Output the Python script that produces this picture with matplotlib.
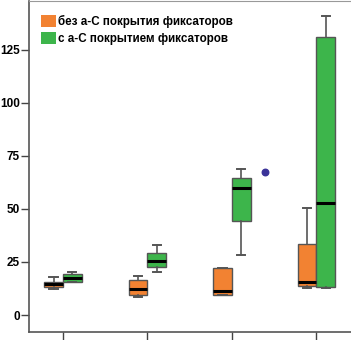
import matplotlib
matplotlib.use("Agg")
import matplotlib.pyplot as plt
from matplotlib.patches import Patch

plt.rcParams['font.family'] = ['Liberation Sans', 'DejaVu Sans']

# groups (x tick labels are cut off in the original)
groups = [1, 2, 3, 4]
labels = ['без а-С покрытия фиксаторов', 'с а-С покрытием фиксаторов']

# box stats: low whisker, q1, median, q3, high whisker
no_lo = [12.1, 8.6, 9.2, 12.6]
no_q1 = [13.4, 9.4, 9.4, 13.8]
no_med = [14.5, 12.3, 11.5, 15.4]
no_q3 = [15.7, 16.5, 22.0, 33.3]
no_hi = [18.0, 18.5, 22.0, 50.3]

ac_lo = [15.5, 20.1, 28.3, 12.9]
ac_q1 = [15.7, 22.5, 44.3, 13.1]
ac_med = [17.3, 25.6, 60.0, 52.7]
ac_q3 = [19.2, 29.4, 64.5, 130.8]
ac_hi = [20.1, 33.0, 68.9, 141.0]

# single outlier drawn to the right of group 3
outlier_group = 3
outlier_val = [67.6]

c_orange = '#F28232'
c_green = '#3DB54B'


def stats(lo, q1, med, q3, hi):
    return [dict(whislo=a, q1=b, med=c, q3=d, whishi=e, fliers=[])
            for a, b, c, d, e in zip(lo, q1, med, q3, hi)]


fig = plt.figure(figsize=(3.51, 3.40), dpi=100)
ax = fig.add_axes([0.084, 0.0235, 0.963, 0.974])

w = 0.22
common = dict(widths=w, patch_artist=True, showfliers=False, capwidths=0.1,
              medianprops=dict(color='black', linewidth=2.2),
              whiskerprops=dict(color='#555555', linewidth=1.2),
              capprops=dict(color='#555555', linewidth=1.4))

b1 = ax.bxp(stats(no_lo, no_q1, no_med, no_q3, no_hi),
            positions=[g - w / 2 for g in groups], **common)
b2 = ax.bxp(stats(ac_lo, ac_q1, ac_med, ac_q3, ac_hi),
            positions=[g + w / 2 for g in groups], **common)
for b, col in ((b1, c_orange), (b2, c_green)):
    for p in b['boxes']:
        p.set_facecolor(col)
        p.set_edgecolor('#555555')
        p.set_linewidth(1.0)

ax.scatter([outlier_group + 0.39], outlier_val, s=22, color='#3B3399',
           zorder=5)

ax.set_xlim(0.604, 4.604)
ax.set_ylim(-8, 148)
ax.set_yticks([0, 25, 50, 75, 100, 125])
ax.set_xticks(groups)
ax.set_xticklabels([])
ax.tick_params(axis='y', direction='out', length=6, width=1.0,
               color='#444444', labelsize=8.5, pad=1)
ax.tick_params(axis='x', direction='out', length=9, width=1.0,
               color='#444444')
for lab in ax.get_yticklabels():
    lab.set_fontweight('bold')

for s in ('left', 'bottom'):
    ax.spines[s].set_color('#555555')
    ax.spines[s].set_linewidth(1.2)
ax.spines['top'].set_color('#999999')
ax.spines['right'].set_visible(False)

handles = [Patch(facecolor=c_orange, edgecolor='none'),
           Patch(facecolor=c_green, edgecolor='none')]
ax.legend(handles, labels, loc='upper left', bbox_to_anchor=(0.01, 0.982),
          frameon=False, handlelength=1.3, handleheight=1.2,
          handletextpad=0.15, labelspacing=0.35, borderpad=0.2,
          prop=dict(size=8.4, weight='bold'))

fig.savefig('out.png', dpi=100)
